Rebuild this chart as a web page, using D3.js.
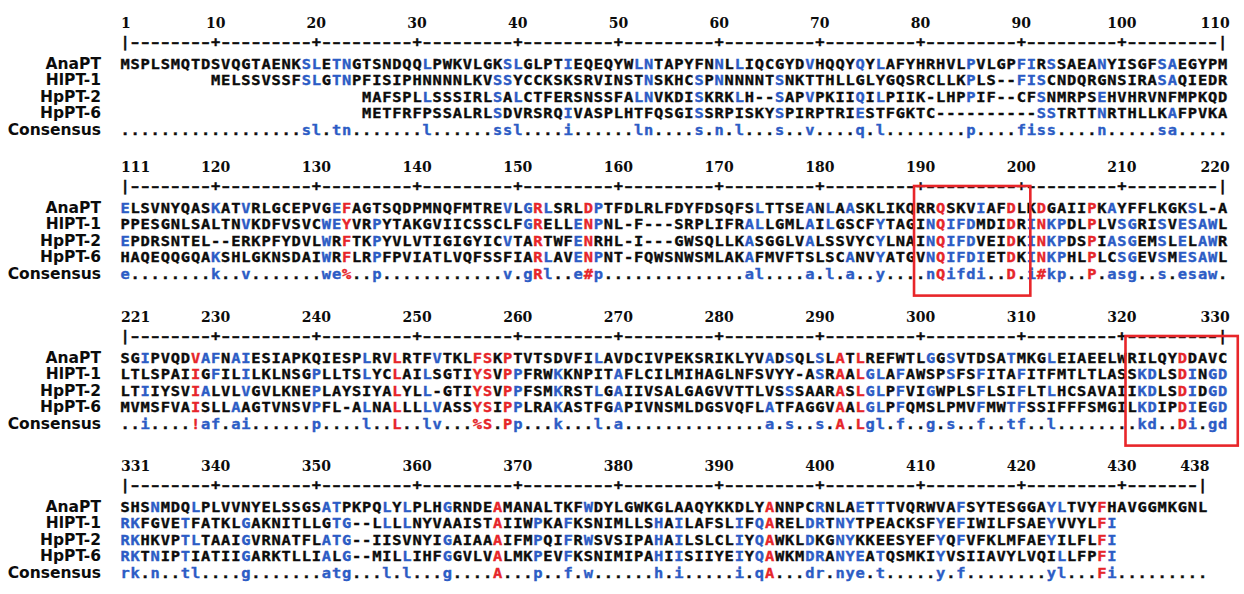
<!DOCTYPE html>
<html><head><meta charset="utf-8">
<script src="https://cdn.jsdelivr.net/npm/d3@7"></script>
<style>
html,body{margin:0;padding:0;background:#fff;}
svg{display:block;}
</style></head><body>
<svg id="chart" width="1244" height="594"></svg>
<script>
// ---------------- DATA ----------------
const seqNames = ["AnaPT", "HlPT-1", "HpPT-2", "HpPT-6"];
const consensusName = "Consensus";

const blockStarts = [1, 111, 221, 331];
const blockEnds = [110, 220, 330, 438];

const tickLabels = [
  [1, 10, 20, 30, 40, 50, 60, 70, 80, 90, 100, 110],
  [111, 120, 130, 140, 150, 160, 170, 180, 190, 200, 210, 220],
  [221, 230, 240, 250, 260, 270, 280, 290, 300, 310, 320, 330],
  [331, 340, 350, 360, 370, 380, 390, 400, 410, 420, 430, 438]
];

const anaPT = [
  "MSPLSMQTDSVQGTAENKSLETNGTSNDQQLPWKVLGKSLGLPTIEQEQYWLNTAPYFNNLLIQCGYDVHQQYQYLAFYHRHVLPVLGPFIRSSAEANYISGFSAEGYPM",
  "ELSVNYQASKATVRLGCEPVGEFAGTSQDPMNQFMTREVLGRLSRLDPTFDLRLFDYFDSQFSLTTSEANLAASKLIKQRRQSKVIAFDLKDGAIIPKAYFFLKGKSL-A",
  "SGIPVQDVAFNAIESIAPKQIESPLRVLRTFVTKLFSKPTVTSDVFILAVDCIVPEKSRIKLYVADSQLSLATLREFWTLGGSVTDSATMKGLEIAEELWRILQYDDAVC",
  "SHSNMDQLPLVVNYELSSGSATPKPQLYLPLHGRNDEAMANALTKFWDYLGWKGLAAQYKKDLYANNPCRNLAETTTVQRWVAFSYTESGGAYLTVYFHAVGGMKGNL"
];
const hlPT1 = [
  "         MELSSVSSFSLGTNPFISIPHNNNNLKVSSYCCKSKSRVINSTNSKHCSPNNNNNTSNKTTHLLGLYGQSRCLLKPLS--FISCNDQRGNSIRASAQIEDR",
  "PPESGNLSALTNVKDFVSVCWEYVRPYTAKGVIICSSCLFGRELLENPNL-F---SRPLIFRALLGMLAILGSCFYTAGINQIFDMDIDRINKPDLPLVSGRISVESAWL",
  "LTLSPAIIGFILILKLNSGPLLTSLYCLAILSGTIYSVPPFRWKKNPITAFLCILMIHAGLNFSVYY-ASRAALGLAFAWSPSFSFITAFITFMTLTLASSKDLSDINGD",
  "RKFGVETFATKLGAKNITLLGTG--LLLLNYVAAISTAIIWPKAFKSNIMLLSHAILAFSLIFQARELDRTNYTPEACKSFYEFIWILFSAEYVVYLFI         "
];
const hpPT2 = [
  "                        MAFSPLLSSSIRLSALCTFERSNSSFALNVKDISKRKLH--SAPVPKIIQILPIIK-LHPPIF--CFSNMRPSEHVHRVNFMPKQD",
  "EPDRSNTEL--ERKPFYDVLWRFTKPYVLVTIGIGYICVTARTWFENRHL-I---GWSQLLKASGGLVALSSVYCYLNAINQIFDVEIDKINKPDSPIASGEMSLELAWR",
  "LTIIYSVIALVLVGVLKNEPLAYSIYALYLL-GTIYSVPPFSMKRSTLGAIIVSALGAGVVTTLVSSSAARASLGLPFVIGWPLSFLSIFLTLHCSAVAIIKDLSDIDGD",
  "RKHKVPTLTAAIGVRNATFLATG--IISVNYIGAIAAAIFMPQIFRWSVSIPAHAILSLCLIYQAWKLDKGNYKKEESYEFYQFVFKLMFAEYILFLFI         "
];
const hpPT6 = [
  "                        METFRFPSSALRLSDVRSRQIVASPLHTFQSGISSRPISKYSPIRPTRIESTFGKTC----------SSTRTTNRTHLLKAFPVKA",
  "HAQEQQGQAKSHLGKNSDAIWRFLRPFPVIATLVQFSSFIARLAVENPNT-FQWSNWSMLAKAFMVFTSLSCANVYATGVNQIFDIETDKINKPHLPLCSGEVSMESAWL",
  "MVMSFVAISLLAAGTVNSVPFL-ALNALLLLVASSYSIPPLRAKASTFGAPIVNSMLDGSVQFLATFAGGVAALGLPFQMSLPMVFMWTFSSIFFFSMGILKDIPDIEGD",
  "RKTNIPTIATIIGARKTLLIALG--MILLIHFGGVLVALMKPEVFKSNIMIPAHIISIIYEIYQAWKMDRANYEATQSMKIYVSIIAVYLVQILLFPFI         "
];
const consensus = [
  "..................sl.tn.......l......ssl....i......ln....s.n.l...s..v....q.l........p....fiss....n.....sa.....",
  "e........k..v.......we%..p............v.gRl..e#p..............al....a.l.a..y....nQifdi..D.i#kp..P.asg..s.esaw.",
  "..i....!af.ai......p....l..L..lv...%S.Pp...k...l.a..............a.s..s.A.Lgl.f..g.s..f..tf..l........kd..Di.gd",
  "rk.n..tl....g.......atg...l.l...g....A...p..f.w......h.i.....i.qA...dr.nye.t.....y.f........yl...Fi........."
];

// residues drawn blue although they differ from the consensus letter (similar residues)
const extraBlue = [["HpPT-2", 98], ["HpPT-6", 74], ["HpPT-2", 233]];

// highlighted regions (alignment columns)
const boxFrom = [190, 321];
const boxTo = [200.4, 331];

// ---------------- DRAWING ----------------
const BLUE = "#2c5cc5", RED = "#e6252a", BLACK = "#0c0c0c", BOXRED = "#e8262a";
const symbolGroups = {"!": "IV", "$": "LM", "%": "FY", "#": "NDQEBZ"};

const seqs = [anaPT.join(""), hlPT1.join(""), hpPT2.join(""), hpPT6.join("")];
const cons = consensus.join("");

const svg = d3.select("#chart");
const nCols = 110, pitch = 10.07;
const x = d3.scaleLinear().domain([0, nCols]).range([120, 120 + nCols * pitch]);
const blockY = d3.scaleLinear().domain([0, 1, 2, 3]).range([64, 208, 358, 507]);   // centre of first sequence row
const rowY = d3.scaleLinear().domain([0, 1]).range([0, 16.4]);

const seqFont = '"DejaVu Sans Mono", monospace';
const labelFont = '"DejaVu Sans", sans-serif';
const numFont = '"DejaVu Serif", serif';

function consColor(c) {
  if (c === "." || c === " ") return BLACK;
  if (symbolGroups[c]) return RED;
  return (c === c.toUpperCase()) ? RED : BLUE;
}
function isExtra(r, col) {
  return extraBlue.some(e => e[0] === seqNames[r] && e[1] === col);
}
function resColor(ch, col, r) {
  const c = cons[col - 1];
  if (ch === "-" || ch === " " || c === ".") return isExtra(r, col) ? BLUE : BLACK;
  const match = symbolGroups[c] ? symbolGroups[c].includes(ch) : ch.toUpperCase() === c.toUpperCase();
  if (match) return consColor(c);
  return isExtra(r, col) ? BLUE : BLACK;
}

function glyphs(sel, yy, sx) {
  return sel.attr("transform", d => `translate(${x(d.c - d.start + 0.5)},${yy}) scale(${sx ? sx(d) : 1.1},1)`)
    .attr("text-anchor", "middle")
    .style("font-family", seqFont).style("font-weight", "bold").style("font-size", "14px")
    .attr("stroke-width", 0.35)
    .text(d => d.ch);
}

blockStarts.forEach((start, b) => {
  const end = blockEnds[b];
  const y0 = blockY(b);
  const g = svg.append("g");
  const cols = d3.range(start, end + 1);

  // tick numbers
  g.selectAll("text.num").data(tickLabels[b]).enter().append("text")
    .attr("class", "num")
    .attr("x", v => v === start ? x(0) + 1 : (v === end ? x(end - start + 1) + 2 : x(v - start + 0.5)))
    .attr("y", y0 - 36)
    .attr("text-anchor", v => v === start ? "start" : (v === end ? "end" : "middle"))
    .style("font-family", numFont).style("font-weight", "bold").style("font-size", "14px")
    .attr("fill", BLACK)
    .text(v => v);

  // ruler
  const rul = cols.map(c => ({c, start, ch: (c === start || c === end) ? "|" : (c % 10 === 0 ? "+" : "\u2013")}));
  glyphs(g.selectAll("text.rul").data(rul).enter().append("text").attr("class", "rul"), y0 - 17,
         d => d.ch === "\u2013" ? 0.78 : 1.1)
    .attr("fill", BLACK).attr("stroke", BLACK);

  // sequence rows
  seqs.forEach((s, r) => {
    const yy = y0 + rowY(r);
    g.append("text").attr("x", 101).attr("y", yy + 5).attr("text-anchor", "end")
      .style("font-family", labelFont).style("font-weight", "bold").style("font-size", "15.5px")
      .attr("fill", BLACK).text(seqNames[r]);
    const res = cols.map(c => ({c, start, ch: s[c - 1]})).filter(d => d.ch && d.ch !== " ");
    glyphs(g.selectAll("text.r" + r).data(res).enter().append("text").attr("class", "r" + r), yy + 5)
      .attr("fill", d => resColor(d.ch, d.c, r))
      .attr("stroke", d => resColor(d.ch, d.c, r));
  });

  // consensus row
  const yc = y0 + rowY(4);
  g.append("text").attr("x", 101).attr("y", yc + 5).attr("text-anchor", "end")
    .style("font-family", labelFont).style("font-weight", "bold").style("font-size", "15.5px")
    .attr("fill", BLACK).text(consensusName);
  const cdat = cols.map(c => ({c, start, ch: cons[c - 1]}));
  glyphs(g.selectAll("text.cs").data(cdat).enter().append("text").attr("class", "cs"), yc + 5)
    .attr("fill", d => consColor(d.ch))
    .attr("stroke", d => consColor(d.ch));

  // boxes
  boxFrom.forEach((f, i) => {
    if (f >= start && f <= end) {
      g.append("rect")
        .attr("x", x(f - start) - 1.5)
        .attr("y", y0 - 22)
        .attr("width", x(boxTo[i] - start + 1) - x(f - start) + 1.5)
        .attr("height", (yc + 22) - (y0 - 22))
        .attr("fill", "none").attr("stroke", BOXRED).attr("stroke-width", 2.6);
    }
  });
});
</script>
</body></html>
